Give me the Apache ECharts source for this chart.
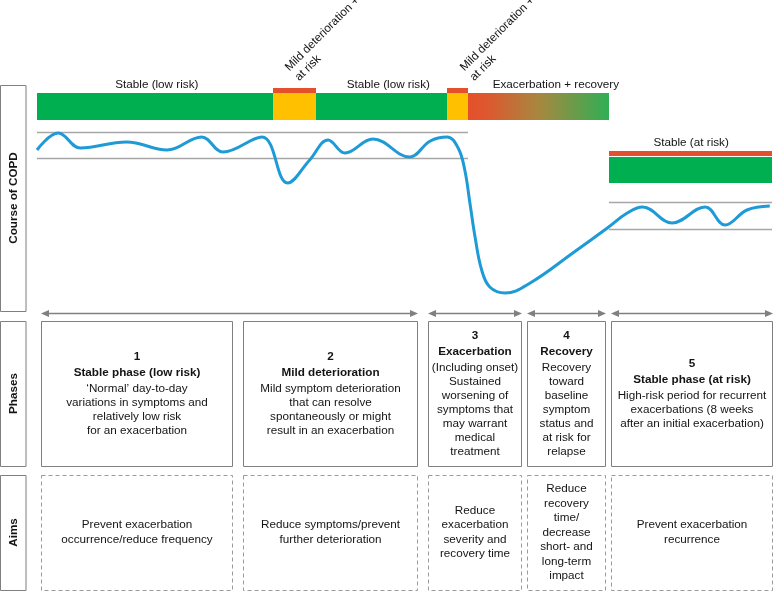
<!DOCTYPE html>
<html><head><meta charset="utf-8">
<script src="https://cdn.jsdelivr.net/npm/echarts@6/dist/echarts.min.js"></script>
<style>html,body{margin:0;padding:0;background:#fff}#c{width:774px;height:592px}</style>
</head><body><div id="c"></div>
<script>
// ---- data (time along the course: 0..100, symptom status level: 0..110) ----
const curveTime   = [0, 2.9, 5.9, 12.2, 17.7, 22.4, 25.3, 30.6, 34.1, 37.1, 39.6, 41.9, 45.7, 50.7, 53.5, 55.8, 57.3, 58.2, 58.9, 59.6, 60.5, 61.6, 63.7, 67.1, 72.9, 77.6, 80.3, 82.4, 86.4, 90.9, 93.6, 96.6, 99.7];
const curveStatus = [75, 83.5, 76, 79, 75, 81.5, 74, 81.5, 58.5, 70, 80, 73.5, 80.5, 71.5, 79.5, 81.5, 76, 65, 48.5, 31.5, 15, 6.5, 3.5, 8.5, 23.5, 36, 43.5, 46.5, 38.5, 46.5, 37.5, 45, 47];

const stateStart = [0, 32.1, 38.0, 55.8, 58.6, 77.8];
const stateEnd   = [32.1, 38.0, 55.8, 58.6, 77.8, 100];
const stateKind  = ['stable', 'mild', 'stable', 'mild', 'exacerbation', 'atRisk'];

const bandStart = [0, 77.8];
const bandEnd   = [58.6, 100];
const bandLow   = [71, 35.5];
const bandHigh  = [84, 49];

const stateLabels     = ['Stable (low risk)', 'Stable (low risk)', 'Exacerbation + recovery', 'Stable (at risk)'];
const stateLabelTime  = [16.3, 47.8, 70.6, 89.0];
const stateLabelLevel = [107.5, 107.5, 107.5, 78.5];
const riskLabel       = 'Mild deterioration +\nat risk';
const riskLabelTime   = [36.05, 59.86];
const riskLabelLevel  = [108, 108];

const phaseNumbers = ['1', '2', '3', '4', '5'];
const phaseTitles  = ['Stable phase (low risk)', 'Mild deterioration', 'Exacerbation', 'Recovery', 'Stable phase (at risk)'];
const phaseDescriptions = [
  '\u2018Normal\u2019 day-to-day\nvariations in symptoms and\nrelatively low risk\nfor an exacerbation',
  'Mild symptom deterioration\nthat can resolve\nspontaneously or might\nresult in an exacerbation',
  '(Including onset)\nSustained\nworsening of\nsymptoms that\nmay warrant\nmedical\ntreatment',
  'Recovery\ntoward\nbaseline\nsymptom\nstatus and\nat risk for\nrelapse',
  'High-risk period for recurrent\nexacerbations (8 weeks\nafter an initial exacerbation)'
];
const phaseAims = [
  'Prevent exacerbation\noccurrence/reduce frequency',
  'Reduce symptoms/prevent\nfurther deterioration',
  'Reduce\nexacerbation\nseverity and\nrecovery time',
  'Reduce\nrecovery\ntime/\ndecrease\nshort- and\nlong-term\nimpact',
  'Prevent exacerbation\nrecurrence'
];
const phaseFrom = [0.5, 28.0, 53.2, 66.7, 78.1];
const phaseTo   = [26.7, 51.8, 66.0, 77.4, 100.1];
const arrowFrom = [0.5, 53.2, 66.7, 78.1];
const arrowTo   = [51.8, 66.0, 77.4, 100.1];

// ---- styles / layout ----
const FONT = '"Liberation Sans", Arial, Helvetica, sans-serif';
const FS = 11.7;
const GREEN = '#00AF50', YELLOW = '#FFC000', RED = '#E4502B', TXT = '#141414';
const BOX = '#7f7f7f';
const ARROW_Y = 313, PHASE_TOP = 321, PHASE_BOTTOM = 466, AIM_TOP = 475, AIM_BOTTOM = 590;

const chart = echarts.init(document.getElementById('c'), null, {renderer: 'canvas'});

function xPix(api, t) { return Math.round(api.coord([t, 0])[0]); }
function yPix(api, v) { return Math.round(api.coord([0, v])[1]); }

function renderState(params, api) {
  const x0 = xPix(api, api.value(0)), x1 = xPix(api, api.value(1));
  const kind = stateKind[params.dataIndex];
  const kids = [];
  const rect = (ya, yb, fill) => ({type: 'rect', shape: {x: x0, y: ya, width: x1 - x0, height: yb - ya}, style: {fill: fill}});
  if (kind === 'stable') {
    kids.push(rect(yPix(api, 103.5), yPix(api, 90), GREEN));
  } else if (kind === 'mild') {
    kids.push(rect(yPix(api, 103.5), yPix(api, 90), YELLOW));
    kids.push(rect(yPix(api, 106), yPix(api, 103.5), RED));
  } else if (kind === 'exacerbation') {
    kids.push(rect(yPix(api, 103.5), yPix(api, 90), new echarts.graphic.LinearGradient(0, 0, 1, 0, [
      {offset: 0, color: '#E4502B'}, {offset: 0.12, color: '#DF562E'},
      {offset: 0.5, color: '#A8873F'}, {offset: 1, color: '#2FAF55'}])));
  } else {
    kids.push(rect(yPix(api, 74.5), yPix(api, 72), RED));
    kids.push(rect(yPix(api, 71.5), yPix(api, 58.5), GREEN));
  }
  return {type: 'group', children: kids};
}

function renderBand(params, api) {
  const i = params.dataIndex;
  const x0 = xPix(api, bandStart[i]), x1 = xPix(api, bandEnd[i]);
  const ya = yPix(api, bandHigh[i]) + 0.5, yb = yPix(api, bandLow[i]) + 0.5;
  const st = {stroke: '#A6A6A6', lineWidth: 1.5};
  return {type: 'group', children: [
    {type: 'line', shape: {x1: x0, y1: ya, x2: x1, y2: ya}, style: st},
    {type: 'line', shape: {x1: x0, y1: yb, x2: x1, y2: yb}, style: st}
  ]};
}

function renderLabels(params, api) {
  const p = api.coord([api.value(0), api.value(1)]);
  return {type: 'text', x: p[0], y: p[1], style: {text: stateLabels[params.dataIndex], align: 'center', verticalAlign: 'middle',
    fontSize: FS, fontFamily: FONT, fill: TXT}};
}

function renderRisk(params, api) {
  const p = api.coord([api.value(0), api.value(1)]);
  return {type: 'text', x: p[0], y: p[1], rotation: Math.PI / 4, style: {text: riskLabel, align: 'left', verticalAlign: 'bottom',
    fontSize: FS, lineHeight: 14, fontFamily: FONT, fill: TXT}};
}

function renderArrow(params, api) {
  const x0 = xPix(api, api.value(0)), x1 = xPix(api, api.value(1));
  const y = ARROW_Y + 0.5, c = '#808080';
  return {type: 'group', children: [
    {type: 'line', shape: {x1: x0 + 6, y1: y, x2: x1 - 6, y2: y}, style: {stroke: c, lineWidth: 1.3}},
    {type: 'polygon', shape: {points: [[x0, y], [x0 + 8, y - 3.5], [x0 + 8, y + 3.5]]}, style: {fill: c}},
    {type: 'polygon', shape: {points: [[x1, y], [x1 - 8, y - 3.5], [x1 - 8, y + 3.5]]}, style: {fill: c}}
  ]};
}

function renderPhase(params, api) {
  const i = params.dataIndex;
  const x0 = xPix(api, api.value(0)) + 0.5, x1 = xPix(api, api.value(1)) - 0.5;
  const cx = (x0 + x1) / 2;
  return {type: 'group', children: [
    {type: 'rect', shape: {x: x0, y: PHASE_TOP + 0.5, width: x1 - x0, height: PHASE_BOTTOM - PHASE_TOP},
      style: {fill: '#fff', stroke: BOX, lineWidth: 1}},
    {type: 'text', x: cx, y: (PHASE_TOP + PHASE_BOTTOM) / 2 - 0.5, style: {
      text: '{n|' + phaseNumbers[i] + '}\n{t|' + phaseTitles[i] + '}\n{b|' + phaseDescriptions[i] + '}',
      align: 'center', verticalAlign: 'middle', fontFamily: FONT, fontSize: FS, fill: TXT,
      rich: {
        n: {fontFamily: FONT, fontSize: FS, fontWeight: 'bold', lineHeight: 16, fill: TXT, align: 'center'},
        t: {fontFamily: FONT, fontSize: FS, fontWeight: 'bold', lineHeight: 17, fill: TXT, align: 'center'},
        b: {fontFamily: FONT, fontSize: FS, lineHeight: 14, fill: TXT, align: 'center'}
      }}},
    {type: 'rect', shape: {x: x0, y: AIM_TOP + 0.5, width: x1 - x0, height: AIM_BOTTOM - AIM_TOP},
      style: {fill: '#fff', stroke: '#9a9a9a', lineWidth: 1, lineDash: [4, 3]}},
    {type: 'text', x: cx, y: (AIM_TOP + AIM_BOTTOM) / 2, style: {
      text: phaseAims[i], align: 'center', verticalAlign: 'middle', fontFamily: FONT, fontSize: FS, lineHeight: 14.5, fill: TXT}}
  ]};
}

function sideBox(y0, y1, label) {
  return [
    {type: 'rect', shape: {x: 0.5, y: y0 + 0.5, width: 25.5, height: y1 - y0}, style: {fill: '#fff', stroke: BOX, lineWidth: 1}},
    {type: 'text', x: 13.5, y: (y0 + y1) / 2, rotation: Math.PI / 2, style: {text: label, align: 'center', verticalAlign: 'middle',
      fontFamily: FONT, fontSize: FS, fontWeight: 'bold', fill: TXT}}
  ];
}

const option = {
  animation: false,
  backgroundColor: '#fff',
  grid: {left: 37, width: 735, top: 80, height: 220},
  xAxis: {type: 'value', min: 0, max: 100, show: false},
  yAxis: {type: 'value', min: 0, max: 110, show: false},
  graphic: [].concat(sideBox(85, 311, 'Course of COPD'), sideBox(321, 466, 'Phases'), sideBox(475, 590, 'Aims')),
  series: [
    {type: 'custom', clip: false, z: 2, renderItem: renderState, encode: {x: [0, 1]},
      data: stateStart.map((s, i) => [s, stateEnd[i]])},
    {type: 'custom', clip: false, z: 2, renderItem: renderBand, encode: {x: [0, 1], y: [2, 3]},
      data: bandStart.map((s, i) => [s, bandEnd[i], bandLow[i], bandHigh[i]])},
    {type: 'custom', clip: false, z: 3, renderItem: renderLabels, encode: {x: 0, y: 1},
      data: stateLabelTime.map((t, i) => [t, stateLabelLevel[i]])},
    {type: 'custom', clip: false, z: 3, renderItem: renderRisk, encode: {x: 0, y: 1},
      data: riskLabelTime.map((t, i) => [t, riskLabelLevel[i]])},
    {type: 'line', z: 4, smooth: 0.4, showSymbol: false, symbol: 'none',
      lineStyle: {color: '#1E9BD7', width: 3}, data: curveTime.map((t, i) => [t, curveStatus[i]])},
    {type: 'custom', clip: false, z: 2, renderItem: renderArrow, encode: {x: [0, 1]},
      data: arrowFrom.map((f, i) => [f, arrowTo[i]])},
    {type: 'custom', clip: false, z: 2, renderItem: renderPhase, encode: {x: [0, 1]},
      data: phaseFrom.map((f, i) => [f, phaseTo[i]])}
  ]
};
chart.setOption(option);
</script>
</body></html>
